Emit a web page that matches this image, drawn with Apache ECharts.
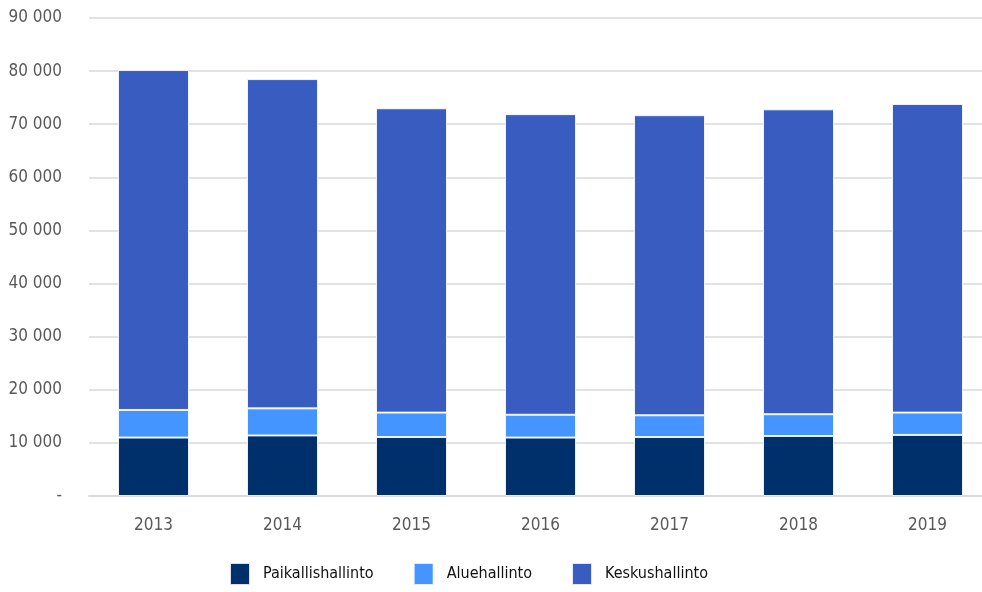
<!DOCTYPE html>
<html>
<head>
<meta charset="utf-8">
<script src="https://cdn.jsdelivr.net/npm/echarts@6/dist/echarts.min.js"></script>
<style>
  html, body { margin: 0; padding: 0; background: #fff; }
  #chart { width: 982px; height: 592px; }
</style>
</head>
<body>
<div id="chart"></div>
<script>
const years = ['2013', '2014', '2015', '2016', '2017', '2018', '2019'];
const paikallis = [11000, 11400, 11100, 11000, 11100, 11300, 11500];
const alue = [5200, 5100, 4600, 4300, 4100, 4100, 4200];
const kesku = [64000, 62000, 57300, 56600, 56500, 57400, 58100];

const font = "'Liberation Sans Narrow', 'DejaVu Sans Condensed', 'Roboto Condensed', sans-serif";

const chart = echarts.init(document.getElementById('chart'));

function fmt(v) {
  if (v === 0) return '-';
  return String(v).replace(/\B(?=(\d{3})+(?!\d))/g, ' ');
}

function bar(name, data, color) {
  return {
    name: name,
    type: 'bar',
    stack: 'total',
    barWidth: 71,
    data: data,
    itemStyle: { color: color, borderColor: 'rgba(255,255,255,0.85)', borderWidth: 1 }
  };
}

chart.setOption({
  animation: false,
  textStyle: { fontFamily: font },
  grid: { left: 89, width: 903, top: 18, bottom: 96, outerBoundsMode: 'none', containLabel: false },
  xAxis: {
    type: 'category',
    data: years,
    axisLine: { lineStyle: { color: '#d9d9d9', width: 2 } },
    axisTick: { show: false },
    axisLabel: { color: '#595959', fontSize: 17, margin: 21, fontFamily: font }
  },
  yAxis: {
    type: 'value',
    min: 0,
    max: 90000,
    interval: 10000,
    axisLine: { show: false },
    axisTick: { show: false },
    splitLine: { lineStyle: { color: '#d9d9d9', width: 1.5 } },
    axisLabel: { color: '#595959', fontSize: 17, margin: 27, formatter: fmt, fontFamily: font }
  },
  legend: {
    bottom: 1,
    left: 224,
    itemWidth: 20,
    itemHeight: 22,
    itemGap: 39,
    icon: 'rect',
    textStyle: { color: '#111', fontSize: 16, padding: [0, 0, 0, 8], fontFamily: font },
    data: ['Paikallishallinto', 'Aluehallinto', 'Keskushallinto']
  },
  series: [
    bar('Paikallishallinto', paikallis, '#00306b'),
    bar('Aluehallinto', alue, '#4495ff'),
    bar('Keskushallinto', kesku, '#385cbf')
  ]
});
</script>
</body>
</html>
